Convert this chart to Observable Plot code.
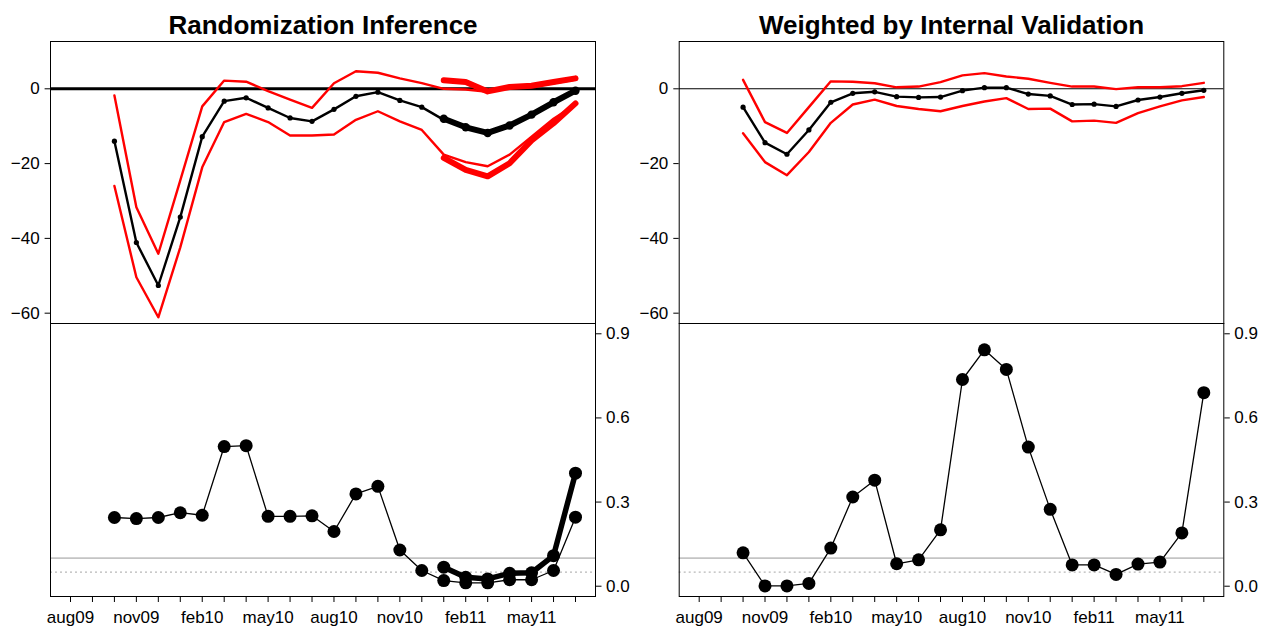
<!DOCTYPE html>
<html>
<head>
<meta charset="utf-8">
<script src="https://cdn.jsdelivr.net/npm/d3@7"></script>
<script src="https://cdn.jsdelivr.net/npm/@observablehq/plot@0.6"></script>
<style>
  html, body { margin: 0; padding: 0; background: #fff; }
  #root { position: relative; width: 1262px; height: 628px; overflow: hidden; }
  #root svg { position: absolute; background: transparent; }
</style>
</head>
<body>
<div id="root"></div>
<script>
// ---------- data ----------
const months = ["aug09","sep09","oct09","nov09","dec09","jan10","feb10","mar10","apr10","may10","jun10","jul10",
                "aug10","sep10","oct10","nov10","dec10","jan11","feb11","mar11","apr11","may11","jun11","jul11"];
const tickLabels = ["aug09","nov09","feb10","may10","aug10","nov10","feb11","may11"];
const seriesMonths = ["oct09","nov09","dec09","jan10","feb10","mar10","apr10","may10","jun10","jul10","aug10",
                      "sep10","oct10","nov10","dec10","jan11","feb11","mar11","apr11","may11","jun11","jul11"];
const subMonths = ["jan11","feb11","mar11","apr11","may11","jun11","jul11"];

const titles = ["Randomization Inference", "Weighted by Internal Validation"];

// Randomization inference (left)
const riEst   = [-14.0,-41.1,-52.6,-34.3,-12.8,-3.3,-2.4,-5.1,-7.8,-8.7,-5.5,-2.0,-0.9,-3.1,-4.9,-8.3,-10.1,-12.0,-9.6,-6.7,-3.3,-0.6];
const riUpper = [-1.8,-31.7,-44.1,-24.5,-4.7,2.2,1.9,-0.6,-2.9,-5.1,1.5,4.7,4.3,2.8,1.5,0.0,-0.2,-0.8,0.3,0.5,1.5,2.5];
const riLower = [-26.0,-50.4,-61.1,-42.4,-21.0,-8.9,-6.7,-8.9,-12.5,-12.5,-12.2,-8.3,-6.0,-8.7,-11.0,-17.6,-19.6,-20.7,-17.6,-12.8,-8.0,-4.2];
const riP     = [0.245,0.241,0.245,0.262,0.253,0.498,0.501,0.249,0.249,0.251,0.195,0.329,0.356,0.129,0.056,0.020,0.012,0.012,0.023,0.023,0.056,0.246];
// thick sub-series (jan11 - jul11)
const riEst2   = [-8.0,-10.3,-11.8,-9.8,-6.9,-3.6,-0.5];
const riUpper2 = [2.3,1.8,-0.7,0.5,0.8,1.8,2.8];
const riLower2 = [-18.5,-21.7,-23.4,-19.9,-13.8,-9.2,-3.9];
const riP2     = [0.068,0.032,0.026,0.046,0.048,0.109,0.403];

// Weighted by internal validation (right)
const ivEst   = [-4.9,-14.4,-17.5,-11.0,-3.6,-1.2,-0.8,-2.1,-2.3,-2.2,-0.5,0.3,0.3,-1.4,-1.9,-4.2,-4.1,-4.7,-3.0,-2.2,-1.2,-0.4];
const ivUpper = [2.4,-8.9,-11.8,-4.9,2.0,1.9,1.5,0.4,0.6,1.8,3.6,4.2,3.3,2.7,1.6,0.6,0.6,-0.1,0.4,0.4,0.7,1.6];
const ivLower = [-11.9,-19.6,-23.1,-16.9,-9.1,-4.2,-2.9,-4.6,-5.4,-6.0,-4.6,-3.4,-2.5,-5.4,-5.3,-8.7,-8.5,-9.1,-6.5,-4.7,-3.1,-2.2];
const ivP     = [0.119,0.001,0.001,0.010,0.136,0.318,0.378,0.080,0.094,0.201,0.737,0.843,0.773,0.496,0.274,0.076,0.076,0.042,0.079,0.086,0.190,0.690];

const topTicks = [-60, -40, -20, 0];
const pTicks = [0, 0.3, 0.6, 0.9];
const pRefSolid = [0.1];
const pRefDotted = [0.05];
const zeroLine = [0];

// ---------- helpers ----------
const rows = (ms, vals) => ms.map((m, i) => ({x: months.indexOf(m), y: vals[i]}));
const xDomain = [-0.911, months.length - 1 + 0.911];
const font = "'Liberation Sans', Arial, Helvetica, sans-serif";
const root = document.getElementById("root");

function place(svg, left, top) {
  svg.style.left = left + "px";
  svg.style.top = top + "px";
  root.appendChild(svg);
}

function topPlot(cfg) {
  const marks = [
    Plot.ruleY(zeroLine, {stroke: "black", strokeWidth: cfg.zeroWidth}),
    Plot.line(rows(seriesMonths, cfg.upper), {x: "x", y: "y", stroke: "#ff0000", strokeWidth: 2.4}),
    Plot.line(rows(seriesMonths, cfg.lower), {x: "x", y: "y", stroke: "#ff0000", strokeWidth: 2.4}),
    Plot.line(rows(seriesMonths, cfg.est), {x: "x", y: "y", stroke: "black", strokeWidth: 2.4}),
    Plot.dot(rows(seriesMonths, cfg.est), {x: "x", y: "y", r: 2.6, fill: "black"})
  ];
  if (cfg.est2) {
    marks.push(
      Plot.line(rows(subMonths, cfg.upper2), {x: "x", y: "y", stroke: "#ff0000", strokeWidth: 6}),
      Plot.line(rows(subMonths, cfg.lower2), {x: "x", y: "y", stroke: "#ff0000", strokeWidth: 6}),
      Plot.line(rows(subMonths, cfg.est2), {x: "x", y: "y", stroke: "black", strokeWidth: 6}),
      Plot.dot(rows(subMonths, cfg.est2), {x: "x", y: "y", r: 4.2, fill: "black"})
    );
  }
  marks.push(
    Plot.frame({stroke: "black", strokeWidth: 1}),
    Plot.axisY(topTicks, {anchor: "left", tickSize: 5.4, tickPadding: 5.5, label: null}),
    Plot.text([cfg.title], {frameAnchor: "top", lineAnchor: "bottom", dy: -8, fontSize: 26, fontWeight: "bold", fill: "black"})
  );
  return Plot.plot({
    width: 631, height: 324,
    marginLeft: cfg.ml, marginRight: cfg.mr, marginTop: 41, marginBottom: 1,
    style: {fontFamily: font, fontSize: "17px", color: "black", background: "transparent", overflow: "visible"},
    x: {domain: xDomain, axis: null},
    y: {domain: [-62.76, 12.65], axis: null},
    marks
  });
}

function bottomPlot(cfg) {
  const marks = [
    Plot.ruleY(pRefSolid, {stroke: "#c4c4c4", strokeWidth: 1.6}),
    Plot.ruleY(pRefDotted, {stroke: "#b8b8b8", strokeWidth: 1.2, strokeDasharray: "2,3"}),
    Plot.line(rows(seriesMonths, cfg.p), {x: "x", y: "y", stroke: "black", strokeWidth: 1.3}),
    Plot.dot(rows(seriesMonths, cfg.p), {x: "x", y: "y", r: 6.5, fill: "black"})
  ];
  if (cfg.p2) {
    marks.push(
      Plot.line(rows(subMonths, cfg.p2), {x: "x", y: "y", stroke: "black", strokeWidth: 5.5}),
      Plot.dot(rows(subMonths, cfg.p2), {x: "x", y: "y", r: 6.5, fill: "black"})
    );
  }
  marks.push(
    Plot.frame({stroke: "black", strokeWidth: 1}),
    Plot.axisY(pTicks, {anchor: "right", tickSize: 5.5, tickPadding: 5, tickFormat: d3.format(".1f"), label: null}),
    Plot.axisX(d3.range(months.length), {
      anchor: "bottom", tickSize: 6, tickPadding: 8.5, label: null,
      tickFormat: i => tickLabels.includes(months[i]) ? months[i] : ""
    })
  );
  return Plot.plot({
    width: 631, height: 306,
    marginLeft: cfg.ml, marginRight: cfg.mr, marginTop: 1, marginBottom: 32,
    style: {fontFamily: font, fontSize: "17px", color: "black", background: "transparent", overflow: "visible"},
    x: {domain: xDomain, axis: null},
    y: {domain: [-0.0367, 0.9367], axis: null},
    marks
  });
}

place(topPlot({title: titles[0], est: riEst, upper: riUpper, lower: riLower,
               est2: riEst2, upper2: riUpper2, lower2: riLower2, zeroWidth: 3, ml: 50, mr: 36}), 0, 0);
place(bottomPlot({p: riP, p2: riP2, ml: 50, mr: 36}), 0, 322);
place(topPlot({title: titles[1], est: ivEst, upper: ivUpper, lower: ivLower, zeroWidth: 1.1, ml: 47.7, mr: 38.7}), 631, 0);
place(bottomPlot({p: ivP, ml: 47.7, mr: 38.7}), 631, 322);
</script>
</body>
</html>
